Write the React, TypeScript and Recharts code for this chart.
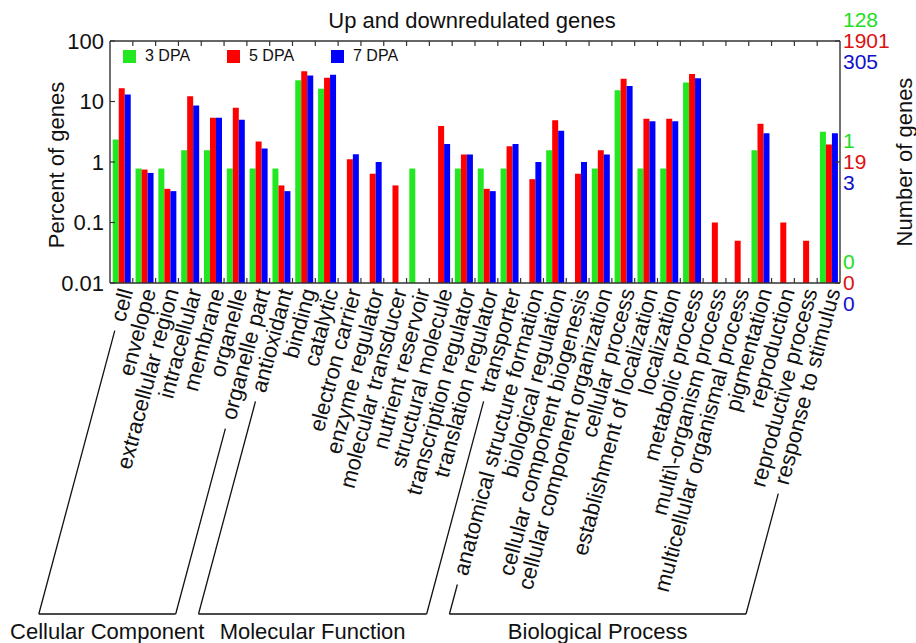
import React from "react";
import { BarChart, Bar, XAxis, YAxis, Legend, ReferenceLine } from "recharts";

const categories = [
  "cell",
  "envelope",
  "extracellular region",
  "intracellular",
  "membrane",
  "organelle",
  "organelle part",
  "antioxidant",
  "binding",
  "catalytic",
  "electron carrier",
  "enzyme regulator",
  "molecular transducer",
  "nutrient reservoir",
  "structural molecule",
  "transcription regulator",
  "translation regulator",
  "transporter",
  "anatomical structure formation",
  "biological regulation",
  "cellular component biogenesis",
  "cellular component organization",
  "cellular process",
  "establishment of localization",
  "localization",
  "metabolic process",
  "multi\\-organism process",
  "multicellular organismal process",
  "pigmentation",
  "reproduction",
  "reproductive process",
  "response to stimulus",
];

// percent of genes (null = no bar)
const dpa3 = [2.35, 0.78, 0.78, 1.56, 1.56, 0.78, 0.78, 0.78, 22.4, 16.3, null, null, null, 0.78, null, 0.78, 0.78, 0.78, null, 1.56, null, 0.78, 15.3, 0.78, 0.78, 20.7, null, null, 1.56, null, null, 3.15];
const dpa5 = [16.5, 0.75, 0.36, 12.2, 5.4, 7.9, 2.18, 0.41, 31.6, 24.7, 1.11, 0.64, 0.41, null, 3.95, 1.33, 0.36, 1.82, 0.52, 4.9, 0.64, 1.56, 23.8, 5.2, 5.2, 28.5, 0.1, 0.05, 4.3, 0.1, 0.05, 1.94];
const dpa7 = [13.1, 0.66, 0.33, 8.6, 5.4, 5.0, 1.67, 0.33, 27, 27.7, 1.34, 1.0, null, null, 1.99, 1.33, 0.33, 1.99, 1.0, 3.3, 1.0, 1.33, 18, 4.7, 4.7, 24.2, null, null, 3.0, null, null, 3.0];

const seriesNames = ["3 DPA", "5 DPA", "7 DPA"];
const seriesKeys = ["d3", "d5", "d7"];
const barColors = ["#22e822", "#ff0000", "#0000ff"];
const textColors = ["#22dd22", "#dd1111", "#1111cc"];

const percentTicks = [0.01, 0.1, 1, 10, 100];
const countTicks = [0.01, 1, 100];
const counts3 = ["0", "1", "128"];
const counts5 = ["0", "19", "1901"];
const counts7 = ["0", "3", "305"];

const groupNames = ["Cellular Component", "Molecular Function", "Biological Process"];
const groupFirst = [0, 7, 18];
const groupLast = [6, 17, 31];

const data = categories.map((name, i) => ({ name, d3: dpa3[i], d5: dpa5[i], d7: dpa7[i] }));

const FONT = '"Liberation Sans", Arial, Helvetica, sans-serif';
const INK = "#111";
const AXIS = "#333";
const PLOT_TOP = 41;
const BRACKET_Y = 614;
const ANGLE = 75;
const RAD = (ANGLE * Math.PI) / 180;

let ctx: any = null;
function textWidth(s: string, size: number) {
  if (!ctx) ctx = document.createElement("canvas").getContext("2d");
  if (!ctx) return s.length * size * 0.5;
  ctx.font = `${size}px ${FONT}`;
  return ctx.measureText(s).width;
}

function CategoryTick(props: any) {
  const { x, y, payload, index } = props;
  const half = payload && payload.offset ? payload.offset : 11.4;
  const label = String(payload.value);
  const ax = x + 4.5;
  const ay = y + 6;
  const cx = Math.cos(RAD);
  const sy = Math.sin(RAD);
  const legBottom = (px: number) => px - ((BRACKET_Y - ay) * cx) / sy;
  const parts: any[] = [];

  // small inward marks at the category boundaries, bottom and top of the frame
  if (index > 0) {
    const bx = x - half;
    parts.push(<line key="tb" x1={bx} x2={bx} y1={y} y2={y - 5} stroke={AXIS} strokeWidth={1.2} />);
    parts.push(<line key="tt" x1={bx} x2={bx} y1={PLOT_TOP} y2={PLOT_TOP + 5} stroke={AXIS} strokeWidth={1.2} />);
  }

  parts.push(
    <text
      key="lbl"
      transform={`translate(${ax},${ay}) rotate(${-ANGLE})`}
      textAnchor="end"
      dy="0.35em"
      fontSize={22}
      fontFamily={FONT}
      fill={INK}
    >
      {label}
    </text>
  );

  const g = groupFirst.indexOf(index) >= 0 ? groupFirst.indexOf(index) : groupLast.indexOf(index);
  if (g >= 0) {
    const t = textWidth(label, 22) + 10;
    const sx = ax - cx * t;
    const syy = ay + sy * t;
    parts.push(<line key="leg" x1={sx} y1={syy} x2={legBottom(ax)} y2={BRACKET_Y} stroke={INK} strokeWidth={1.3} />);
    if (groupLast[g] === index) {
      const firstAx = ax - (groupLast[g] - groupFirst[g]) * 2 * half;
      const left = legBottom(firstAx);
      const right = legBottom(ax);
      parts.push(<line key="hz" x1={left} y1={BRACKET_Y} x2={right} y2={BRACKET_Y} stroke={INK} strokeWidth={1.3} />);
      parts.push(
        <text key="grp" x={(left + right) / 2} y={639} textAnchor="middle" fontSize={22} fontFamily={FONT} fill={INK}>
          {groupNames[g]}
        </text>
      );
    }
  }
  return <g>{parts}</g>;
}

function PercentTick(props: any) {
  const { x, y, payload } = props;
  return (
    <g>
      <line x1={x} x2={x + 5} y1={y} y2={y} stroke={AXIS} strokeWidth={1.2} />
      <text x={x - 6} y={y} dy="0.35em" textAnchor="end" fontSize={22} fontFamily={FONT} fill={INK}>
        {String(payload.value)}
      </text>
    </g>
  );
}

function CountTick(props: any) {
  const { x, y, index } = props;
  const lines = [counts3[index], counts5[index], counts7[index]];
  return (
    <g>
      <line x1={x - 5} x2={x} y1={y} y2={y} stroke={AXIS} strokeWidth={1.2} />
      {lines.map((s, k) => (
        <text key={k} x={x + 3} y={y + (k - 1) * 21} dy="0.35em" textAnchor="start" fontSize={21} fontFamily={FONT} fill={textColors[k]}>
          {s}
        </text>
      ))}
    </g>
  );
}

function LegendBox() {
  return (
    <div style={{ display: "flex", fontFamily: FONT, fontSize: 16, lineHeight: "16px", color: INK }}>
      {seriesNames.map((n, i) => (
        <div key={n} style={{ width: 104, display: "flex", alignItems: "center" }}>
          <span style={{ width: 13, height: 13, background: barColors[i], marginRight: 9, display: "inline-block" }} />
          <span>{n}</span>
        </div>
      ))}
    </div>
  );
}

export default function App() {
  return (
    <div style={{ position: "relative", width: 916, height: 643, background: "#fff" }}>
      <style>{`body{margin:0;}`}</style>
      <div style={{ position: "absolute", left: 272, top: 10, width: 400, textAlign: "center", fontFamily: FONT, fontSize: 22, lineHeight: "22px", color: INK }}>
        Up and downredulated genes
      </div>
      <div style={{ position: "absolute", left: 57 - 150, top: 165 - 11, width: 300, textAlign: "center", fontFamily: FONT, fontSize: 22, lineHeight: "22px", color: INK, transform: "rotate(-90deg)" }}>
        Percent of genes
      </div>
      <div style={{ position: "absolute", left: 905 - 150, top: 162 - 11, width: 300, textAlign: "center", fontFamily: FONT, fontSize: 22, lineHeight: "22px", color: INK, transform: "rotate(-90deg)" }}>
        Number of genes
      </div>
      <BarChart
        width={916}
        height={643}
        data={data}
        margin={{ top: PLOT_TOP, right: 0, bottom: 0, left: 0 }}
        barCategoryGap="12%"
        barGap={0}
        style={{ position: "absolute", left: 0, top: 0 }}
      >
        <XAxis
          dataKey="name"
          xAxisId="bottom"
          height={360}
          interval={0}
          tickLine={false}
          tickSize={0}
          tickMargin={0}
          axisLine={{ stroke: AXIS, strokeWidth: 1.4 }}
          tick={<CategoryTick />}
        />
        <YAxis
          yAxisId="left"
          type="number"
          scale="log"
          domain={[0.01, 100]}
          allowDataOverflow
          ticks={percentTicks}
          width={110}
          tickLine={false}
          tickSize={0}
          tickMargin={0}
          axisLine={{ stroke: AXIS, strokeWidth: 1.4 }}
          tick={<PercentTick />}
        />
        <YAxis
          yAxisId="right"
          orientation="right"
          type="number"
          scale="log"
          domain={[0.01, 100]}
          allowDataOverflow
          ticks={countTicks}
          width={76}
          tickLine={false}
          tickSize={0}
          tickMargin={0}
          axisLine={{ stroke: AXIS, strokeWidth: 1.4 }}
          tick={<CountTick />}
        />
        <ReferenceLine yAxisId="left" xAxisId="bottom" y={100} stroke={AXIS} strokeWidth={1.4} />
        <Legend
          layout="vertical"
          align="center"
          verticalAlign="middle"
          wrapperStyle={{ position: "absolute", top: 48, left: 123, width: "auto", height: "auto" }}
          content={() => <LegendBox />}
        />
        {seriesKeys.map((k, i) => (
          <Bar key={k} dataKey={k} name={seriesNames[i]} xAxisId="bottom" yAxisId="left" fill={barColors[i]} isAnimationActive={false} />
        ))}
      </BarChart>
    </div>
  );
}
